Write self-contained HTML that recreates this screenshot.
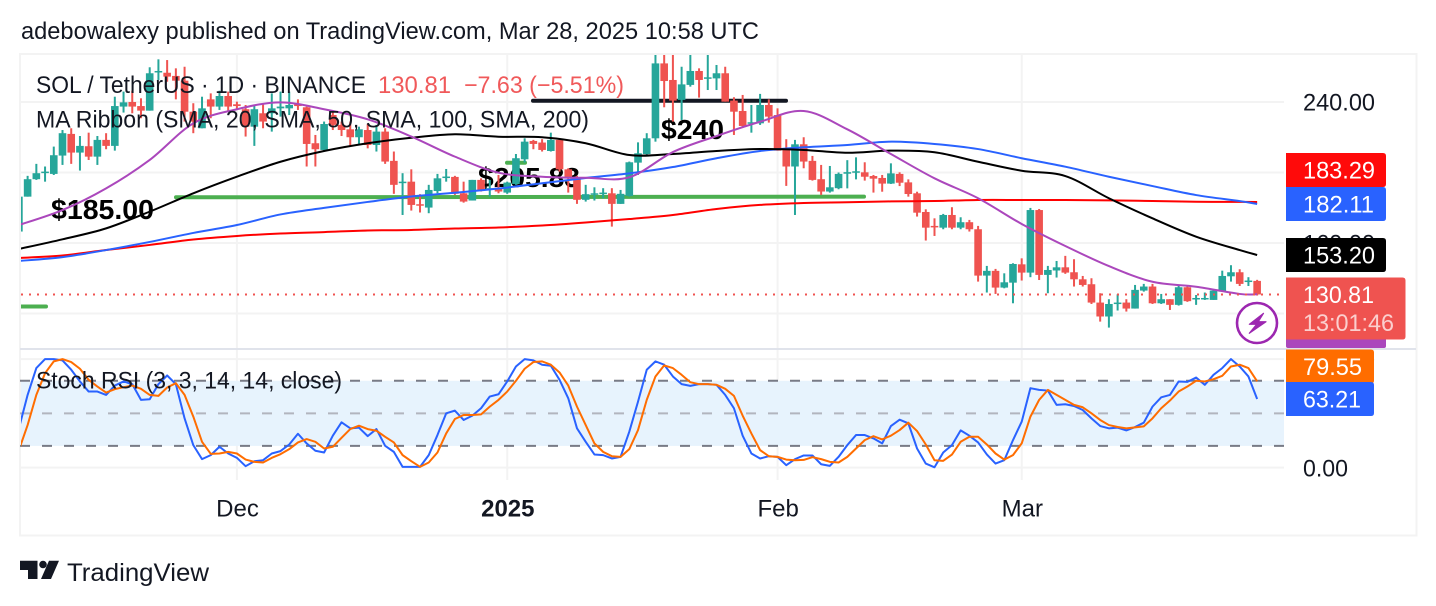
<!DOCTYPE html>
<html lang="en">
<head>
<meta charset="utf-8">
<title>SOL / TetherUS chart</title>
<style>
html,body{margin:0;padding:0;background:#fff;width:1436px;height:606px;overflow:hidden}
svg{display:block}
text{font-family:"Liberation Sans",sans-serif;fill:#131722}
</style>
</head>
<body>
<svg id="chart" xmlns="http://www.w3.org/2000/svg" width="1436" height="606" viewBox="0 0 1436 606">
  <defs>
    <clipPath id="price-clip"><rect x="21" y="55" width="1263" height="293"/></clipPath>
    <clipPath id="osc-clip"><rect x="21" y="350" width="1263" height="130"/></clipPath>
    <clipPath id="axis-clip"><rect x="1284" y="55" width="132" height="293"/></clipPath>
  </defs>
  <rect x="0" y="0" width="1436" height="606" fill="#ffffff"/>
  <text x="21" y="39" font-size="24" textLength="738" lengthAdjust="spacingAndGlyphs">adebowalexy published on TradingView.com, Mar 28, 2025 10:58 UTC</text>
  <rect x="20" y="54" width="1396.5" height="481.5" fill="none" stroke="#f3f3f3" stroke-width="2"/>
  <g id="grid"></g>
  <rect id="osc-band" x="21" y="381" width="1263" height="65" fill="#e7f3fd"/>
  <g id="osc-levels"></g>
  <g clip-path="url(#price-clip)">
    <g>
      <line x1="176" y1="197.3" x2="864" y2="196.6" stroke="#4caf50" stroke-width="4" stroke-linecap="round"/>
      <line x1="18" y1="306.5" x2="46" y2="306.5" stroke="#4caf50" stroke-width="4" stroke-linecap="round"/>
      <line x1="507" y1="162.7" x2="525" y2="162.7" stroke="#4caf50" stroke-width="4" stroke-linecap="round"/>
      <line x1="533" y1="100.8" x2="786" y2="100.8" stroke="#131722" stroke-width="4" stroke-linecap="round"/>
      <text x="51" y="219" font-size="28" font-weight="700" style="fill:#000" textLength="103" lengthAdjust="spacingAndGlyphs">$185.00</text>
      <text x="478" y="187" font-size="28" font-weight="700" style="fill:#000" textLength="102" lengthAdjust="spacingAndGlyphs">$205.83</text>
      <text x="661" y="139" font-size="28" font-weight="700" style="fill:#000" textLength="63" lengthAdjust="spacingAndGlyphs">$240</text>
    </g>
    <g id="candles"></g>
    <g id="mas"></g>
    <line id="last-price-line" x1="21" x2="1284" stroke="#ef5350" stroke-width="2" stroke-dasharray="2 6"/>
  </g>
  <g clip-path="url(#osc-clip)">
    <g id="osc-lines"></g>
  </g>
  <rect x="20" y="348" width="1396" height="2" fill="#e0e3eb"/>

  <g>
    <circle cx="1257" cy="323" r="20" fill="#fff" stroke="#9c27b0" stroke-width="2.6"/>
    <polygon points="1263.5,313.3 1249.3,324.3 1256.7,324.3 1249.3,333.3 1266,321.7 1258.3,321.7" fill="#9c27b0" stroke="#9c27b0" stroke-width="1.2" stroke-linejoin="round"/>
  </g>

  <g id="axis-labels"></g>

  <text x="36" y="92.8" font-size="24" textLength="330" lengthAdjust="spacingAndGlyphs">SOL / TetherUS · 1D · BINANCE</text>
  <text x="378" y="92.8" font-size="24" style="fill:#f0595a" textLength="73" lengthAdjust="spacingAndGlyphs">130.81</text>
  <text x="464" y="92.8" font-size="24" style="fill:#f0595a" textLength="160" lengthAdjust="spacingAndGlyphs">−7.63 (−5.51%)</text>
  <text x="36" y="127.3" font-size="24" textLength="553" lengthAdjust="spacingAndGlyphs">MA Ribbon (SMA, 20, SMA, 50, SMA, 100, SMA, 200)</text>
  <text x="36" y="388.3" font-size="24" textLength="306" lengthAdjust="spacingAndGlyphs">Stoch RSI (3, 3, 14, 14, close)</text>

  <g>
    <polygon points="20,560.7 37.5,560.7 37.5,579 28,579 28,570 20,570" fill="#131722"/>
    <circle cx="43" cy="564.5" r="3.8" fill="#131722"/>
    <polygon points="49,560.7 59,560.7 51,579 41,579" fill="#131722"/>
    <text x="67" y="581" font-size="25" style="fill:#131722" textLength="142" lengthAdjust="spacingAndGlyphs">TradingView</text>
  </g>
</svg>

<script>
const priceTicks = [240, 200, 160, 120];
const oscGridTicks = [100, 0];
const oscLevels = [80, 50, 20];
const timeBars = [25, 56, 87, 115];
const timeLabels = ['Dec', '2025', 'Feb', 'Mar'];

const opens = [166.5,186.3,196.2,199.9,199.2,209.6,221.9,211.3,214.9,209,
218.5,215.1,237.4,240,237.7,235.1,257,256.6,254.8,252.1,
234.5,225.1,241.5,237.4,243.4,238.7,235.9,226,233.6,233.6,
236.4,236.4,238.9,237,216.6,212.8,232.6,227,224.5,220,
224.1,215.6,223.2,206.6,194.5,194.8,182,180.1,189.5,197.3,
197.5,188.2,184.1,195.8,190.5,191.4,188.6,193.5,207.5,217.9,
217,212.2,218.5,201.8,197.3,184.5,187.7,188,188.2,182.2,
186.7,205.6,210.5,219.4,261.9,252.5,241.2,249.7,257.6,253.4,
253.4,256.3,240.8,234.9,227.9,227.9,238.3,232.6,213.2,203.4,
216,206.6,196.2,189.2,191.1,199.3,200.1,200.1,198,196.9,
193.7,199.2,194.4,188.2,177.6,169.7,168.7,175.9,168.7,171.8,
167.8,141.5,144.2,134.7,137.5,147.9,143.2,178.7,141.9,144.4,
146.2,143.4,139.4,136.6,126.2,118.3,125.4,126.2,122.8,133,
135.3,125.8,128.1,124.9,134.9,128.1,128.1,127.7,132.4,141.1,
143.4,137.9,138.5];

const highs = [186.3,198.1,204.9,203.4,214.7,224.1,225.1,220.7,222.6,220.7,
222.3,243,245.9,246.4,242.1,259.7,264.2,263.8,259.1,260,
239.3,243,244.9,246.4,245.9,240.2,238.3,238.3,239.3,244.9,
245.9,245.9,241.5,237.4,221.3,228.9,234.5,228.9,228.9,226,
227.5,227,225.1,211.9,199.6,201.8,187.7,193,199.2,202,
198.1,194.8,195.8,196.7,195.8,198.6,194.8,210.5,219.4,218.5,
218.9,222.6,219.4,202.4,198.1,193,191.6,191.1,191.1,190.1,
206.2,217.1,222.3,275,275,275,260,275,259.1,275,
261,260,242.7,244,238.3,244.6,241.5,236.4,218.9,218.5,
220,209.4,204.3,203.7,200,207,208.6,205.8,198.6,198.6,
205.2,200.1,196.1,189.1,179.1,174,176.5,180.3,174.6,173.1,
169.7,147,145.3,142.8,148.5,151.3,179.9,179.3,147,149.8,
152.7,150.8,141.3,140,131.5,128.1,130.9,128.1,136.2,136.8,
136.8,131.1,128.1,136.2,136,130.5,131.9,133.8,144.3,147.4,
145.1,140.6,139.1];

const lows = [166.5,186.3,195.8,194.8,198.6,204.3,204.9,201.1,207.1,204.3,
213.2,212.4,234,233.6,230.8,235.1,252.5,251.5,241.5,228.9,
222.3,225.1,230.8,235.5,234.5,235.5,220.4,215.1,225.1,223.2,
231.7,232.6,235.5,203.4,203.4,211.9,224.1,220.7,215.1,215.6,
213.7,211.9,204.9,187.9,175.9,178.4,177.3,176.9,188.2,194.8,
187.3,182.9,184.1,189.2,186.3,188.2,187.9,193,205.6,213.2,
211.9,211.9,200.5,188.6,182.2,183.5,184.1,185.4,169.3,182.2,
186.3,198.6,209.4,217.5,237,228.9,229.8,248.7,242.5,246.8,
246.8,240.2,221.3,225.6,222.6,227,228.3,212.4,192.4,175.9,
202.4,195.4,187.3,188.6,190.5,191,196.1,195.4,188.6,189.1,
193.5,192.3,186.3,175,161.4,164,167.8,167.8,167.8,166.5,
138.1,131.9,131.1,134.3,125.8,138.7,140.6,139,131.5,140.4,
142.5,135.3,135.3,125.4,115.4,112,121.7,121.1,122.8,132.4,
125.4,125.4,122,124.5,126.6,124.9,127.7,127.7,132.4,138.1,
135.6,135.6,130.2];

const closes = [186.3,196.2,199.6,200.5,209.8,222.3,211.3,215.1,209,218.5,
215.1,237.7,239.8,237.4,235.1,256.3,257.6,254.4,252.1,234.5,
228.9,236.4,237.4,243.4,237.4,237.7,226,235.9,228.9,236.4,
237.4,238.3,237.7,216.2,213.2,227.5,227,224.1,220,224.5,
215.6,223.2,206.2,193,194.8,181.6,181.6,190.1,196.7,197.7,
187.9,183.5,195.8,189.7,191.1,189.2,194.3,208.1,217.5,216.2,
212.8,218.5,201.8,196.7,184.5,187.7,188.2,188.6,182.2,187.9,
205.8,210.9,219.4,261.9,251.9,240.8,250,257.6,252.5,254,
256.3,240.2,234.5,226.4,228.5,238.3,231.7,212.4,203.4,216,
206.2,195.8,189.2,191.6,199.2,200.2,200.7,197.6,196.5,193.7,
199.5,194.2,187.8,177.2,168.7,168.9,175.9,168.7,171.8,167.8,
141.5,144.2,134.7,137.7,148.1,143.2,178.7,141.9,144.7,146.2,
143.2,139.4,136.2,126.2,118.3,125.4,126.2,122.8,133.4,135.3,
125.8,128.1,124.9,134.9,127,128.8,128.8,133,141.3,143.4,
136.8,138.7,130.81];

const maBars = [0,5,10,15,20,25,30,35,40,45,50,55,60,65,70,75,80,85,90,95,100,105,110,115,120,125,130,135,140,142];
const sma20 = [170.2,178.7,191,207.1,227.9,235.9,239.8,235.9,230.2,220.4,209,199.9,197.6,197,197.3,211.6,220.7,228.8,234.9,224.5,210.5,196.7,185.4,170.8,158.3,146.9,138,135.2,131.1,130.9];
const sma50 = [156.6,162.1,168.3,177.8,188.2,197.6,206.1,212.2,216.6,219.7,221.7,220.3,220,216.6,209.9,210.5,212.2,213.3,212.8,211.2,212.4,211.5,206.1,201,198,185.4,174,163.6,156,153.2];
const sma100 = [149.8,152,156,160.6,165.7,170.2,176.2,179.9,183.3,186.4,188.5,190.9,193.9,196.9,199.5,203.1,208.1,212.2,214.3,215.6,217.5,216.2,213.3,208.1,203.3,197.6,192.3,187.2,183.8,182.11];
const sma200 = [151.5,152.9,156,158.9,162,164,165.4,166.2,167.1,167.4,168.2,168.8,169.9,171.6,173.6,175.9,179.3,181.6,182.7,183.1,183.6,183.8,184.4,184.4,184.4,184.2,183.8,183.4,183.3,183.29];

const stochK = [36.2,67,91.7,100,100,98.8,90.2,79.4,70.1,70.1,
67,75.6,79.4,76.9,62.4,63,76.9,84.9,76.9,45.4,
20.7,7.8,11.5,19.2,13,9,1.3,5.9,6.8,13,
15.2,21.3,31.2,22.3,15.5,13.9,29.4,41.7,36.2,36.8,
29,35.5,20.1,14.5,0.7,0.7,0.7,11.5,30,50,
52.5,43.9,47.9,54.7,65.5,67.6,79.4,93.2,100,98.8,
94.8,93.9,80.9,63.9,36.2,23.8,12.1,11.5,8.4,9.9,
33.1,60.8,90.2,97.9,94.8,84,76.9,75.3,76.9,76.9,
76.3,67,54.7,29.4,13,8.4,10.5,9.9,2.2,7.8,
11.2,11.2,3.1,1.6,9.9,20.7,30,30,26.9,22.3,
38.3,44.2,40.8,17.6,3.7,0.3,13.9,20.7,34.3,29.4,
23.2,12.1,3.7,6.8,25.3,42.3,73.2,71.6,71,57.8,
58.4,56.8,53.1,45.4,38.3,36.2,36.8,34.3,37.4,41.4,
56.2,64.8,67,79.4,79,83,76.3,85.5,91.7,100,
93.2,84,63.21];

const stochD = [16.1,39.2,67,87,97.9,100,97.3,91.1,80.9,74.7,
69.2,72.3,74.1,75.6,72.6,67,66.1,73.8,77.8,67,
47,23.8,12.7,13,14.5,13,7.4,5.3,4.7,9,
12.4,17,23.2,26.3,23.8,17.6,19.2,27.5,35.5,38.6,
35.5,34,28.4,23.2,11.5,5.9,0.7,4.7,13.9,31.5,
44.8,48.5,48.5,49.1,56.2,62.4,70.1,80,91.1,97.3,
97.9,94.8,87.7,75.6,56.2,39.2,22.3,14.5,10.5,9.9,
17,34.6,62.4,84,94.2,91.7,85.5,78.7,76.9,76.9,
76.3,72.6,66.1,47.9,31.5,16.1,10.5,9.9,7.4,6.8,
7.1,9.6,7.8,5.3,4.7,9.9,17.6,25.3,29,26,
29.4,34.6,41.4,33.7,21.3,6.8,6.2,12,23.8,28.4,
28.4,21.3,13,7.4,11.5,22.3,47,62.4,71.6,67,
62.4,57.8,55.6,50,43.9,39.2,37.4,36.2,37.1,38,
45.4,54.7,61.8,70.1,74.7,80,79.4,81.5,84.6,93.2,
94.8,91.7,79.55];

const NS = 'http://www.w3.org/2000/svg';
const xBar = i => 18.9 + 8.72 * i;
const yPrice = p => 102 + (240 - p) * 1.7625;
const yOsc = v => 467.6 - v * 1.085;
const make = (tag, parent, attrs) => {
  const el = document.createElementNS(NS, tag);
  for (const k in attrs) el.setAttribute(k, attrs[k]);
  parent.appendChild(el);
  return el;
};
const byId = id => document.getElementById(id);

/* grid */
const grid = byId('grid');
priceTicks.forEach(p => {
  const ln = make('line', grid, {x1: 21, x2: 1284, y1: yPrice(p), y2: yPrice(p), stroke: '#f3f3f3', 'stroke-width': 2});
  
  
});
oscGridTicks.forEach(v => {
  const ln = make('line', grid, {x1: 21, x2: 1284, y1: yOsc(v), y2: yOsc(v), stroke: '#f3f3f3', 'stroke-width': 2});
  
  
});
timeBars.forEach(b => {
  const ln = make('line', grid, {x1: xBar(b), x2: xBar(b), y1: 55, y2: 480, stroke: '#f3f3f3', 'stroke-width': 2});
  
  
});

/* oscillator band and levels */
const band = byId('osc-band');
band.setAttribute('y', yOsc(oscLevels[0]));
band.setAttribute('height', yOsc(oscLevels[2]) - yOsc(oscLevels[0]));
const levelGroup = byId('osc-levels');
oscLevels.forEach(v => {
  const mid = v === 50;
  const ln = make('line', levelGroup, {x1: 20, x2: 1284, y1: yOsc(v), y2: yOsc(v), stroke: mid ? '#b2b5be' : '#787b86', 'stroke-width': 2, 'stroke-dasharray': '10 12'});
  
  
});

/* candles */
const candleGroup = byId('candles');
closes.forEach((c, i) => {
  const o = opens[i];
  const col = c >= o ? '#26a69a' : '#ef5350';
  const cx = xBar(i);
  const wick = make('rect', candleGroup, {x: cx - 1, width: 2, y: yPrice(highs[i]), height: yPrice(lows[i]) - yPrice(highs[i]), fill: col});
  
  
  const top = yPrice(Math.max(o, c));
  const bot = yPrice(Math.min(o, c));
  const body = make('rect', candleGroup, {x: cx - 3.8, width: 7.6, y: top, height: Math.max(bot - top, 1.5), fill: col});
  
  
});

/* moving averages: smooth curve through the sampled values */
function smoothPath(bars, values) {
  const pts = bars.map((b, i) => [xBar(b), yPrice(values[i])]);
  let d = 'M' + pts[0][0] + ' ' + pts[0][1];
  for (let i = 0; i < pts.length - 1; i++) {
    const p0 = pts[Math.max(i - 1, 0)], p1 = pts[i], p2 = pts[i + 1], p3 = pts[Math.min(i + 2, pts.length - 1)];
    const c1x = p1[0] + (p2[0] - p0[0]) / 6, c1y = p1[1] + (p2[1] - p0[1]) / 6;
    const c2x = p2[0] - (p3[0] - p1[0]) / 6, c2y = p2[1] - (p3[1] - p1[1]) / 6;
    d += ' C' + c1x + ' ' + c1y + ' ' + c2x + ' ' + c2y + ' ' + p2[0] + ' ' + p2[1];
  }
  return d;
}
const maGroup = byId('mas');
const line200 = make('path', maGroup, {d: smoothPath(maBars, sma200), fill: 'none', stroke: '#ff0000', 'stroke-width': 2});


const line100 = make('path', maGroup, {d: smoothPath(maBars, sma100), fill: 'none', stroke: '#2962ff', 'stroke-width': 2});


const line50 = make('path', maGroup, {d: smoothPath(maBars, sma50), fill: 'none', stroke: '#000000', 'stroke-width': 2});


const line20 = make('path', maGroup, {d: smoothPath(maBars, sma20), fill: 'none', stroke: '#ab47bc', 'stroke-width': 2});



/* last price line */
const lastClose = closes[closes.length - 1];
const lastLine = byId('last-price-line');
lastLine.setAttribute('y1', yPrice(lastClose));
lastLine.setAttribute('y2', yPrice(lastClose));

/* stoch lines */
const oscGroup = byId('osc-lines');
const oscPoints = arr => arr.map((v, i) => xBar(i) + ',' + yOsc(v)).join(' ');
const kLine = make('polyline', oscGroup, {points: oscPoints(stochK), fill: 'none', stroke: '#2962ff', 'stroke-width': 2, 'stroke-linejoin': 'round'});


const dLine = make('polyline', oscGroup, {points: oscPoints(stochD), fill: 'none', stroke: '#ff6d00', 'stroke-width': 2, 'stroke-linejoin': 'round'});



/* axis labels */
const axis = byId('axis-labels');
priceTicks.forEach(p => {
  const t = make('text', axis, {x: 1303, y: yPrice(p) + 8.5, 'font-size': 24, textLength: 72, lengthAdjust: 'spacingAndGlyphs'});
  t.textContent = p.toFixed(2);
  
  
});
oscGridTicks.forEach(v => {
  const s = v.toFixed(2);
  const t = make('text', axis, {x: 1303, y: yOsc(v) + 8.7, 'font-size': 24, textLength: v === 0 ? 45 : 72, lengthAdjust: 'spacingAndGlyphs'});
  t.textContent = s;
  
  
});
timeBars.forEach((b, i) => {
  const t = make('text', axis, {x: xBar(b) + 0.6, y: 516.7, 'font-size': 24, 'text-anchor': 'middle', 'font-weight': timeLabels[i] === '2025' ? 700 : 400});
  t.textContent = timeLabels[i];
  
  
});

/* purple label peeking out under the last-price label */
const purpleLabel = make('rect', axis, {x: 1286, y: 330, width: 100, height: 18, rx: 2, fill: '#ab47bc'});



function tagPath(x, y, w, h) {
  return 'M' + x + ' ' + y + ' H' + (x + w - 3) + ' Q' + (x + w) + ' ' + y + ' ' + (x + w) + ' ' + (y + 3) +
    ' V' + (y + h - 3) + ' Q' + (x + w) + ' ' + (y + h) + ' ' + (x + w - 3) + ' ' + (y + h) + ' H' + x + ' Z';
}
function valueTag(value, width, center, color, textW) {
  const g = make('g', axis, {});
  const box = make('path', g, {d: tagPath(1286, center - 17, width, 34), fill: color});
  
  
  const t = make('text', g, {x: 1303, y: center + 8.5, 'font-size': 24, style: 'fill:#fff', textLength: textW, lengthAdjust: 'spacingAndGlyphs'});
  t.textContent = value.toFixed(2);
  
  
  return g;
}
const tag100 = valueTag(sma100[sma100.length - 1], 100, yPrice(sma100[sma100.length - 1]), '#2962ff', 71);


const tag200 = valueTag(sma200[sma200.length - 1], 100, yPrice(sma200[sma200.length - 1]) - 32, '#ff0a0a', 72);


const tag50 = valueTag(sma50[sma50.length - 1], 100, yPrice(sma50[sma50.length - 1]), '#000000', 72);



/* last price + countdown tag */
const lastY = yPrice(lastClose);
const lastBox = make('path', axis, {d: tagPath(1286, lastY - 17, 119.5, 62), fill: '#ef5350'});


const lastText = make('text', axis, {x: 1303, y: lastY + 8.4, 'font-size': 24, style: 'fill:#fff', textLength: 71, lengthAdjust: 'spacingAndGlyphs'});
lastText.textContent = lastClose.toFixed(2);


const countdown = make('text', axis, {x: 1303, y: lastY + 36.4, 'font-size': 24, style: 'fill:#fff;fill-opacity:.72', textLength: 91, lengthAdjust: 'spacingAndGlyphs'});
countdown.textContent = '13:01:46';



const tagD = valueTag(stochD[stochD.length - 1], 88, yOsc(stochD[stochD.length - 1]) - 14.8, '#ff6d00', 59);


const tagK = valueTag(stochK[stochK.length - 1], 88, yOsc(stochK[stochK.length - 1]), '#2962ff', 58);


</script>
</body>
</html>
